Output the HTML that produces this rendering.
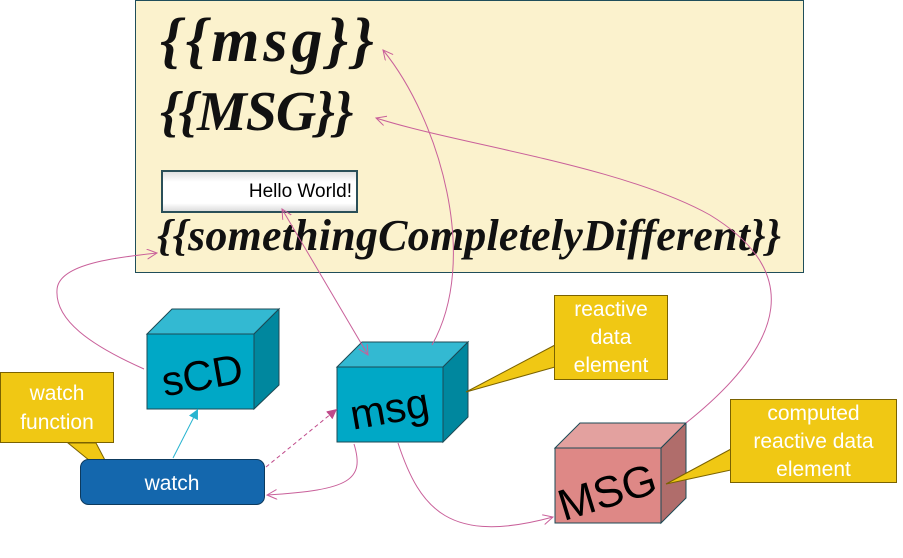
<!DOCTYPE html>
<html><head><meta charset="utf-8"><style>
body{margin:0;width:903px;height:558px;background:#fff;overflow:hidden;position:relative;font-family:"Liberation Sans",sans-serif}
.frame{position:absolute;left:135px;top:0;width:667px;height:271px;background:#fbf2cd;border:1.5px solid #1f4e5a}
.hb{position:absolute;font-family:"Liberation Serif",serif;font-weight:bold;font-style:italic;color:#111;white-space:nowrap}
.inp{position:absolute;left:161px;top:170px;width:193px;height:39px;border:2px solid #2a4f58;background:linear-gradient(#e0e0e0,#fff 25%,#fff 80%,#ddd);box-sizing:content-box}
.inp span{position:absolute;right:4px;top:9px;font-size:19px;color:#000}
.call{position:absolute;background:#f0c814;border:1px solid #7a6200;color:#fff;text-align:center;font-size:21px;line-height:29px}
</style></head><body>
<div class="frame"></div>
<div class="hb" style="left:160px;top:6px;font-size:62px;letter-spacing:4px">{{msg}}</div>
<div class="hb" style="left:160px;top:80px;font-size:56px;letter-spacing:-1px">{{MSG}}</div>
<div class="inp"><span>Hello World!</span></div>
<div class="hb" style="left:157px;top:210px;font-size:44px;letter-spacing:0.2px">{{somethingCompletelyDifferent}}</div>
<svg width="903" height="558" style="position:absolute;left:0;top:0">
<defs>
<marker id="o" markerWidth="12" markerHeight="12" refX="10" refY="5" orient="auto" markerUnits="userSpaceOnUse"><path d="M0,0 L10,5 L0,10" fill="none" stroke="#c9609a" stroke-width="1"/></marker>
<marker id="os" markerWidth="12" markerHeight="12" refX="10" refY="5" orient="auto-start-reverse" markerUnits="userSpaceOnUse"><path d="M0,0 L10,5 L0,10" fill="none" stroke="#c9609a" stroke-width="1"/></marker>
<marker id="fm" markerWidth="12" markerHeight="12" refX="10" refY="5" orient="auto" markerUnits="userSpaceOnUse"><path d="M0,0 L10,5 L0,10z" fill="#c04a8a"/></marker>
<marker id="fc" markerWidth="12" markerHeight="12" refX="10" refY="5" orient="auto" markerUnits="userSpaceOnUse"><path d="M0,0 L10,5 L0,10z" fill="#28b4d0"/></marker>
</defs>
<g stroke="#1c4a55" stroke-width="1">
<polygon points="147,334 172,309 279,309 254,334" fill="#33b9d2"/>
<polygon points="254,334 279,309 279,385 254,409" fill="#00879e"/>
<rect x="147" y="334" width="107" height="75" fill="#00a8c6"/>
<polygon points="337,367 362,342 468,342 443,367" fill="#33b9d2"/>
<polygon points="443,367 468,342 468,417 443,442" fill="#00879e"/>
<rect x="337" y="367" width="106" height="75" fill="#00a8c6"/>
<polygon points="555,448 580,423 686,423 661,448" fill="#e3a19f"/>
<polygon points="661,448 686,423 686,498 661,523" fill="#b06d6b"/>
<rect x="555" y="448" width="106" height="75" fill="#de8886"/>
</g>
<text x="203" y="390" font-size="42" text-anchor="middle" transform="rotate(-10 200 380)" font-family="Liberation Sans">sCD</text>
<text x="390" y="423" font-size="42" text-anchor="middle" transform="rotate(-10 390 412)" font-family="Liberation Sans">msg</text>
<text x="608" y="507" font-size="44" text-anchor="middle" transform="rotate(-17 608 495)" font-family="Liberation Sans">MSG</text>
<polygon points="68,443 96,443 117,483" fill="#f0c814" stroke="#7a6200"/>
<polygon points="555,345 555,367 466,392" fill="#f0c814" stroke="#7a6200"/>
<polygon points="731,449 731,470 666,484" fill="#f0c814" stroke="#7a6200"/>
<rect x="80.5" y="459.5" width="184" height="45" rx="8" fill="#1467ad" stroke="#0d3a5e"/>
<text x="172" y="490" font-size="21" fill="#fff" text-anchor="middle" font-family="Liberation Sans">watch</text>
<g fill="none" stroke="#c9609a" stroke-width="1">
<path d="M144,369 C 90,345 55,320 57,290 C 58,265 110,258 157,253" marker-end="url(#o)"/>
<path d="M282,209 L368,355" marker-start="url(#os)" marker-end="url(#os)"/>
<path d="M432,345 C 480,260 440,120 383,50" marker-end="url(#o)"/>
<path d="M686,423 C 790,340 800,270 710,215 C 620,165 460,145 376,118" marker-end="url(#o)"/>
<path d="M398,443 C 420,510 450,545 553,517" marker-end="url(#o)"/>
<path d="M354,444 C 365,480 350,490 267,495" marker-end="url(#o)"/>
<path d="M266,467 L337,409" stroke="#c04a8a" stroke-dasharray="4,3" marker-end="url(#fm)"/>
<path d="M173,458 L198,409" stroke="#28b4d0" marker-end="url(#fc)"/>
</g>
</svg>
<div class="call" style="left:0;top:372px;width:114px;height:71px;padding-top:6px;box-sizing:border-box">watch<br>function</div>
<div class="call" style="left:554px;top:295px;width:114px;height:85px;padding-top:0px;box-sizing:border-box;line-height:28px">reactive<br>data<br>element</div>
<div class="call" style="left:730px;top:399px;width:167px;height:84px;box-sizing:border-box;line-height:28px">computed<br>reactive data<br>element</div>
</body></html>
